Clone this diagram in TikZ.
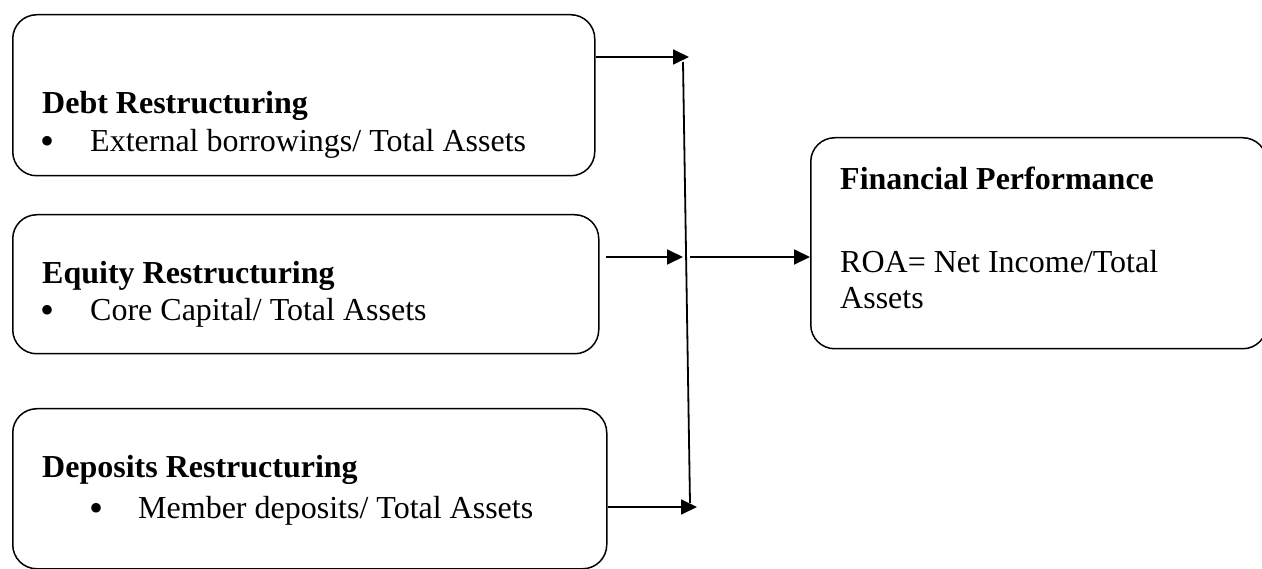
\documentclass[tikz,border=0pt]{standalone}
\usepackage{fontspec}
\setmainfont{Liberation Serif}
\usetikzlibrary{arrows.meta}
\begin{document}
\begin{tikzpicture}[x=1pt,y=-1pt,
  boxstyle/.style={draw,line width=1.5pt,rounded corners=24pt,inner sep=0pt,anchor=north west},
  txt/.style={anchor=base west,inner sep=0pt,font=\fontsize{32}{38}\selectfont},
  hd/.style={txt,font=\fontsize{32}{38}\selectfont\bfseries},
  bul/.style={anchor=base,inner sep=0pt,font=\fontsize{40}{40}\selectfont},
  conn/.style={line width=1.8pt},
  arr/.style={conn,-{Triangle[length=16pt,width=15pt]}}]
\useasboundingbox (0,0) rectangle (1262,569);
\begin{scope}
\clip (0,0) rectangle (1262,569);
\node[boxstyle,minimum width=582pt,minimum height=161pt] (b1) at (12,14) {};
\node[boxstyle,minimum width=586pt,minimum height=139pt] (b2) at (12,214) {};
\node[boxstyle,minimum width=594pt,minimum height=160pt] (b3) at (12,408) {};
\node[boxstyle,minimum width=456pt,minimum height=211pt] (b4) at (810,137) {};
\end{scope}
% texts
\node[hd] (t1) at (42,114) {Debt Restructuring};
\node[bul] (u1) at (48,155) {\textbullet};
\node[txt] (s1) at (90,152) {External borrowings/ Total Assets};
\node[hd] (t2) at (42,284) {Equity Restructuring};
\node[bul] (u2) at (48,324) {\textbullet};
\node[txt] (s2) at (90,321) {Core Capital/ Total Assets};
\node[hd] (t3) at (42,478) {Deposits Restructuring};
\node[bul] (u3) at (97,521) {\textbullet};
\node[txt] (s3) at (138,518) {Member deposits/ Total Assets};
\node[hd] (t4) at (840,190) {Financial Performance};
\node[txt] (r1) at (840,273) {ROA= Net Income/Total};
\node[txt] (r2) at (840,309) {Assets};
% connectors
\coordinate (j1) at (689,57);
\coordinate (vtop) at (683,62);
\coordinate (vbot) at (690,503);
\coordinate (j2) at (683,257);
\coordinate (j3) at (690,257);
\coordinate (j4) at (697,507);
\draw[arr] (b1.east |- j1) -- (j1);
\draw[conn] (vtop) -- (vbot);
\draw[arr] (606,257) -- (j2);
\draw[arr] (j3) -- (b4.west |- j3);
\draw[arr] (b3.east |- j4) -- (j4);
\end{tikzpicture}
\end{document}
